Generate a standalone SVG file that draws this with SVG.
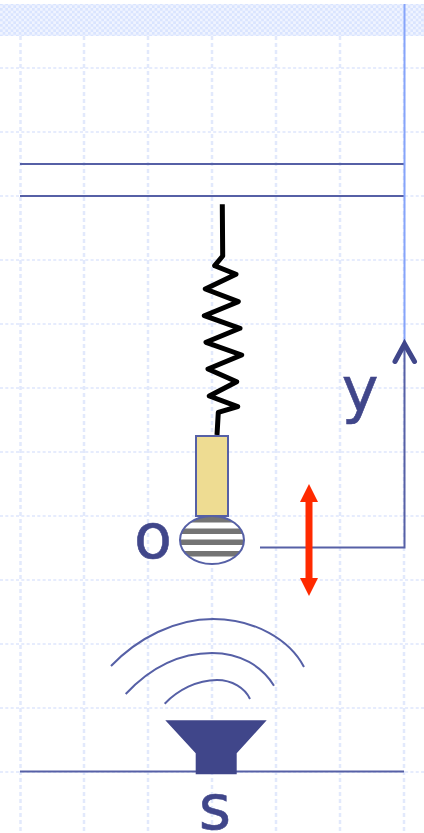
<svg xmlns="http://www.w3.org/2000/svg" width="424" height="833" viewBox="0 0 424 833">
<style>
.grid{stroke:#e6ecfd;stroke-width:2;stroke-dasharray:3 2.330;fill:none}
.gridv{stroke:#e2e9fc;stroke-width:2.500;stroke-dasharray:4 3;fill:none}
.line{stroke:#5660a6;stroke-width:2;fill:none}
.lab{font-family:"DejaVu Sans",sans-serif;font-size:62px;fill:#40468a;stroke:#40468a;stroke-width:0.600}
</style>
<defs>
<pattern id="chk" width="5.330" height="5.330" patternUnits="userSpaceOnUse"><rect width="5.330" height="5.330" fill="#d9e4ff"/><rect width="2.665" height="2.665" fill="#f0f4ff"/><rect x="2.665" y="2.665" width="2.665" height="2.665" fill="#f0f4ff"/></pattern>
<clipPath id="ball"><ellipse cx="212" cy="540" rx="32" ry="24"/></clipPath>
</defs>
<rect width="424" height="833" fill="#fff"/>
<g id="background">
<rect x="0" y="4" width="424" height="32" fill="url(#chk)"/>
<path class="grid" d="M0 68H424M0 132H424M0 196H424M0 260H424M0 324H424M0 388H424M0 452H424M0 516H424M0 580H424M0 644H424M0 708H424M0 772H424"/>
<path class="gridv" d="M20.500 36V833M84 36V833M148 36V833M212 36V833M276 36V833M340 36V833M404 36V833"/>
</g>
<g id="ceiling"><path class="line" d="M20 164H404M20 196H404"/></g>
<g id="floor"><path class="line" d="M20 771.500H404"/></g>
<g id="spring"><path fill="none" stroke="#000" stroke-width="5" stroke-linejoin="round" d="M222.300 204.300L222.700 256L214.700 265.700L236 274.300L205.300 289L238.300 301.700L204.300 315.700L240 328.300L206 342.300L241.700 355L208 369L236.700 381.700L209.300 396L237.700 406.700L218.300 412.300L217 435"/></g>
<g id="mass"><rect x="196" y="436" width="32" height="80" fill="#eedc92" stroke="#5660a6" stroke-width="2"/></g>
<g id="ball-node">
<ellipse cx="212" cy="540" rx="32" ry="24" fill="#fff"/>
<g clip-path="url(#ball)" fill="#747474"><rect x="178" y="517" width="68" height="5.500"/><rect x="178" y="528.500" width="68" height="5.500"/><rect x="178" y="539.500" width="68" height="5.500"/><rect x="178" y="551" width="68" height="5.500"/></g>
<ellipse cx="212" cy="540" rx="32" ry="24" fill="none" stroke="#5660a6" stroke-width="2"/>
</g>
<g id="label-o"><text class="lab" x="153" y="558" text-anchor="middle">o</text></g>
<g id="connectors">
<path fill="none" stroke="#86a4fa" stroke-width="2" d="M404.500 4V342"/>
<path class="line" d="M260 547.500H404.500V342"/>
<path fill="none" stroke="#40468a" stroke-width="5" stroke-linecap="round" d="M395 361.500L404.500 344L414.500 361.500"/>
<path fill="#ff2a00" d="M309 484L318 502H312.500V578H318L309 596L300 578H305.500V502H300Z"/>
</g>
<g id="label-y"><text class="lab" x="360" y="411" text-anchor="middle">y</text></g>
<g id="waves">
<path class="line" d="M111 666C138 638 175 619 213 619C255 619 290 640 304 667"/>
<path class="line" d="M125.700 694C150 668 178 653 212 653C240 653 262 666 274 685.700"/>
<path class="line" d="M164.700 703.700C178 690 197 680 217 680C232 680 245 688 250 699"/>
</g>
<g id="source"><path fill="#40468a" d="M165.300 720.300H266.700L236.700 753.300V774.300H195.700V753.300Z"/></g>
<g id="label-s"><text class="lab" x="215" y="829" text-anchor="middle">s</text></g>
</svg>
